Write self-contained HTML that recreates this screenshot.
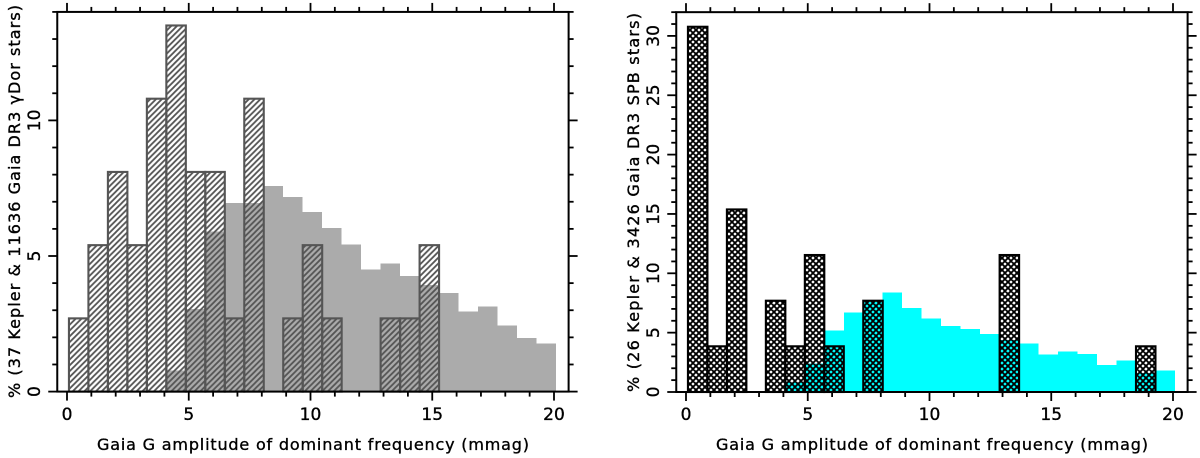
<!DOCTYPE html>
<html lang="en">
<head>
<meta charset="utf-8">
<title>Gaia G amplitude histograms</title>
<style>
html,body{margin:0;padding:0;background:#fff;width:1200px;height:458px;overflow:hidden}
svg{display:block}
text{font-family:"DejaVu Sans","Liberation Sans",sans-serif;fill:#000;stroke:#000;stroke-width:.35px}
</style>
</head>
<body>
<svg id="chart" xmlns="http://www.w3.org/2000/svg" width="1200" height="458" viewBox="0 0 1200 458">
<defs>
<pattern id="hatch-left" patternUnits="userSpaceOnUse" width="5.8" height="5.8">
<path d="M-1.45,1.45 L1.45,-1.45 M0,5.8 L5.8,0 M4.35,7.25 L7.25,4.35" stroke="#555" stroke-width="1.8" fill="none"/>
</pattern>
<pattern id="hatch-right" patternUnits="userSpaceOnUse" width="6" height="6">
<path d="M0,6 L6,0 M-1.5,1.5 L1.5,-1.5 M4.5,7.5 L7.5,4.5 M0,0 L6,6 M-1.5,4.5 L1.5,7.5 M4.5,-1.5 L7.5,1.5" stroke="#000" stroke-width="1.85" fill="none"/>
</pattern>
</defs>
<g id="left-panel"></g>
<g id="right-panel"></g>
</svg>
<script>
// Shared histogram bins (lower edges, mmag) and bin width
const binEdges = [0.08,0.88,1.68,2.48,3.28,4.08,4.88,5.68,6.48,7.28,8.08,8.88,9.68,10.48,11.28,12.08,12.88,13.68,14.48,15.28,16.08,16.88,17.68,18.48,19.28];
const binWidth = 0.8;
const xTickLabels = [0,5,10,15,20];

// Left panel: gamma Dor stars (percent per bin)
const leftGaiaValues = [0,0,0,0,0,0.77,3.04,5.9,6.95,6.95,7.58,7.18,6.62,6.03,5.43,4.5,4.73,4.27,3.93,3.64,2.96,3.13,2.43,1.98,1.78];
const leftKeplerValues = [2.7,5.4,8.1,5.4,10.8,13.5,8.1,8.1,2.7,10.8,0,2.7,5.4,2.7,0,0,2.7,2.7,5.4,0,0,0,0,0,0];
const leftYTickLabels = [0,5,10];

// Right panel: SPB stars (percent per bin)
const rightGaiaValues = [0,0,0,0,0,0.78,2.4,5.2,6.68,7.6,8.4,7.07,6.2,5.56,5.3,4.88,4.38,4.07,3.14,3.4,3.2,2.27,2.64,1.6,1.8];
const rightKeplerValues = [30.77,3.85,15.38,0,7.69,3.85,11.54,3.85,0,7.69,0,0,0,0,0,0,11.54,0,0,0,0,0,0,3.85,0];
const rightYTickLabels = [0,5,10,15,20,25,30];

const NS = 'http://www.w3.org/2000/svg';
function mk(parent, tag, attrs, txt){
  const el = document.createElementNS(NS, tag);
  for (const k in attrs) el.setAttribute(k, attrs[k]);
  if (txt !== undefined) el.textContent = txt;
  parent.appendChild(el);
  return el;
}

function drawPanel(cfg){
  const g = document.getElementById(cfg.id);
  const X = v => cfg.x0 + v * cfg.xs;
  const Y = v => cfg.y0 - v * cfg.ys;
  const L = X(-0.4), R = X(20.6), T = Y(cfg.yMax), B = Y(0);

  // background population: borderless filled steps
  cfg.gaia.forEach((v, i) => {
    if (v <= 0) return;
    const r = mk(g, 'rect', {x: X(binEdges[i]), y: Y(v), width: X(binEdges[i] + binWidth) - X(binEdges[i]), height: B - Y(v), fill: cfg.fill, 'shape-rendering': 'crispEdges'});
    
    
  });
  // Kepler population: hatched outlined bars
  cfg.kepler.forEach((v, i) => {
    if (v <= 0) return;
    const r = mk(g, 'rect', {x: X(binEdges[i]), y: Y(v), width: X(binEdges[i] + binWidth) - X(binEdges[i]), height: B - Y(v), fill: 'url(#' + cfg.hatch + ')', stroke: cfg.edge, 'stroke-width': 2.1});
    
    
  });

  // frame
  const frame = mk(g, 'rect', {x: L, y: T, width: R - L, height: B - T, fill: 'none', stroke: '#000', 'stroke-width': 2});
  
  

  // x ticks (top and bottom)
  for (let v = 0; v <= 20; v++){
    const major = v % 5 === 0;
    const tb = mk(g, 'line', {x1: X(v), x2: X(v), y1: B, y2: B + (major ? 9 : 5), stroke: '#000', 'stroke-width': 1.8});
    
    
    const tt = mk(g, 'line', {x1: X(v), x2: X(v), y1: T, y2: T - (major ? 9 : 5), stroke: '#000', 'stroke-width': 1.8});
    
    
  }
  // y ticks (left and right)
  for (let v = 0; v <= cfg.yMax; v++){
    const major = v % 5 === 0;
    const tl = mk(g, 'line', {x1: L, x2: L - (major ? 9 : 5), y1: Y(v), y2: Y(v), stroke: '#000', 'stroke-width': 1.8});
    
    
    const tr = mk(g, 'line', {x1: R, x2: R + (major ? 9 : 5), y1: Y(v), y2: Y(v), stroke: '#000', 'stroke-width': 1.8});
    
    
  }
  // tick labels
  xTickLabels.forEach(v => {
    const t = mk(g, 'text', {x: X(v), y: 420, 'text-anchor': 'middle', 'font-size': 17}, String(v));
    
    
  });
  cfg.yLabels.forEach(v => {
    const t = mk(g, 'text', {transform: 'translate(' + cfg.yTickX + ',' + Y(v) + ') rotate(-90)', 'text-anchor': 'middle', 'font-size': 17}, String(v));
    
    
  });
  // axis titles
  const xt = mk(g, 'text', {x: cfg.xTitleX, y: 450, 'font-size': 16, textLength: cfg.xTitleLen, lengthAdjust: 'spacing'}, 'Gaia G amplitude of dominant frequency (mmag)');
  
  
  const yt = mk(g, 'text', {transform: 'translate(' + cfg.yTitleX + ',' + cfg.yTitleY + ') rotate(-90)', 'font-size': 16, textLength: cfg.yTitleLen, lengthAdjust: 'spacing'}, cfg.yTitle);
  
  
}

drawPanel({id: 'left-panel', x0: 67, xs: 24.35, y0: 391.6, ys: 27.12, yMax: 14,
  gaia: leftGaiaValues, kepler: leftKeplerValues, yLabels: leftYTickLabels,
  fill: '#ababab', hatch: 'hatch-left', edge: '#555',
  yTickX: 40, xTitleX: 97, xTitleLen: 432,
  yTitleX: 20, yTitleY: 398, yTitleLen: 393,
  yTitle: '% (37 Kepler & 11636 Gaia DR3 γDor stars)'});

drawPanel({id: 'right-panel', x0: 686, xs: 24.35, y0: 392, ys: 11.87, yMax: 32,
  gaia: rightGaiaValues, kepler: rightKeplerValues, yLabels: rightYTickLabels,
  fill: '#00ffff', hatch: 'hatch-right', edge: '#000',
  yTickX: 659, xTitleX: 716, xTitleLen: 432,
  yTitleX: 639, yTitleY: 392, yTitleLen: 379,
  yTitle: '% (26 Kepler & 3426 Gaia DR3 SPB stars)'});
</script>
</body>
</html>
